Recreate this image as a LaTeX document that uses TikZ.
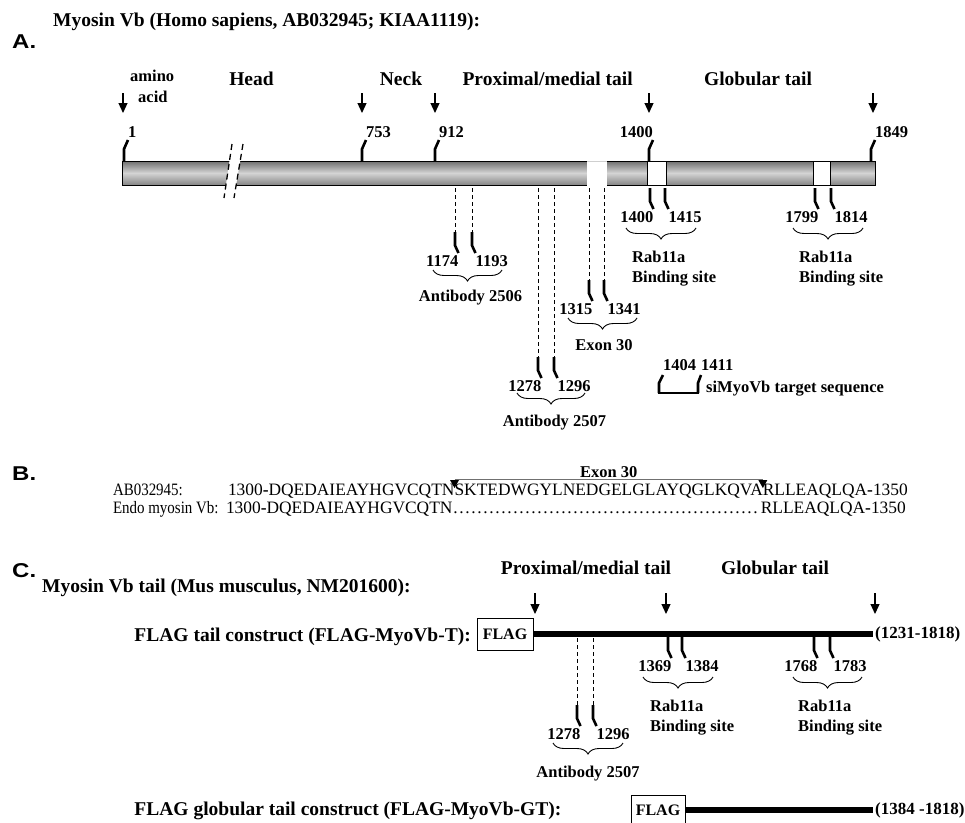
\documentclass[tikz,border=0pt]{standalone}
\usepackage{fontspec}
\setmainfont{Liberation Serif}
\newfontfamily\panelfont{Liberation Sans}
\usetikzlibrary{arrows.meta,decorations.pathreplacing,calc,positioning}
\definecolor{BarTop}{HTML}{6F6F6F}
\definecolor{BarMid}{HTML}{D4D4D4}
\definecolor{BarBot}{HTML}{858585}
\definecolor{ExonLine}{HTML}{707070}
\definecolor{GapEdge}{HTML}{CFCFCF}
\newcommand\seqfont{\fontsize{17.4}{19}\selectfont}
\tikzset{
  panel/.style={font=\fontsize{20}{22}\selectfont\panelfont\bfseries,anchor=base west,inner sep=0pt},
  title/.style={font=\fontsize{19.5}{22}\selectfont\bfseries,anchor=base west,inner sep=0pt},
  region/.style={font=\fontsize{19.5}{22}\selectfont\bfseries,anchor=base,inner sep=0pt},
  numlab/.style={font=\fontsize{16.5}{20}\selectfont\bfseries,inner sep=0pt},
  rangelab/.style={font=\fontsize{17}{20}\selectfont\bfseries,inner sep=0pt,anchor=west},
  seq/.style={font=\seqfont,inner sep=0pt,outer sep=0pt,anchor=base west},
  ticker/.style={line width=2.6pt},
  guide/.style={line width=0.8pt,dash pattern=on 4pt off 3pt},
  pointer/.style={line width=1.2pt,-{Triangle[width=9pt,length=10pt]}},
  brc/.style={decorate,decoration={brace,mirror,amplitude=11pt},line width=0.9pt},
  flagbox/.style={draw,line width=0.9pt,minimum width=56pt,minimum height=32pt,
                  inner sep=0pt,font=\fontsize{16}{18}\selectfont\bfseries},
  construct/.style={line width=6pt},
}
% tick above the bar, label on the given side
\newcommand\markup[4]{%
  \draw[ticker] (#1,161) -- (#1,149) -- ++(4,-9) coordinate (#2);
  \node[numlab,anchor=#4] (#2lab) at ($(#2)+(0,-3)$) {#3};}
% tick below a bar or guide, label on the given side
\newcommand\markdown[5]{%
  \draw[ticker] (#1,#2) -- ++(0,13.5) -- ++(3.5,7.5) coordinate (#3);
  \node[numlab,anchor=#5] (#3lab) at ($(#3)+(0,13.5)$) {#4};}

\begin{document}
\begin{tikzpicture}[x=1pt,y=-1pt]
\useasboundingbox (0,0) rectangle (965,822);

% ---------- A: full length human myosin Vb ----------
\node[title] (titleA) at (53,26.5) {Myosin Vb (Homo sapiens, AB032945; KIAA1119):};
\node[panel] (panA) at (12,48.5) {\scalebox{1.2}[1]{A.}};

\node[numlab,anchor=base west] (amino) at (130,81.5) {amino};
\node[numlab,anchor=base west] (acid) at (138,102.5) {acid};
\node[region] (head) at (251.5,85) {Head};
\node[region] (neck) at (401,85) {Neck};
\node[region,anchor=base east] (prox) at (633,85) {Proximal/medial tail};
\node[region] (glob) at (758,85) {Globular tail};

\foreach \x in {123,362,435,649,873}
  \draw[pointer] (\x,93) -- (\x,113);

% bar with break, exon gap and Rab11a sites
\draw[line width=0.9pt,top color=BarTop,bottom color=BarBot,middle color=BarMid]
  (122,161) rectangle (875,185);
\fill[white] (229.6,160) -- (240.3,160) -- (236,186) -- (225.8,186) -- cycle;
\draw[line width=1.3pt,dash pattern=on 6pt off 4pt]
  (232,144) -- (224,198) (243,144) -- (234,198);
\fill[white] (587,160) rectangle (607,186);
\draw[GapEdge,line width=0.7pt] (587,161) -- (607,161);
\draw[fill=white,line width=0.9pt] (647,161) rectangle (666,185)
  (813,161) rectangle (830,185);

\markup{124}{m1}{1}{base west}
\markup{362}{m753}{753}{base west}
\markup{435}{m912}{912}{base west}
\markup{649}{m1400}{1400}{base east}
\markup{871}{m1849}{1849}{base west}

% Rab11a binding sites
\markdown{650}{188}{r1400}{1400}{base east}
\markdown{665}{188}{r1415}{1415}{base west}
\markdown{815}{188}{r1799}{1799}{base east}
\markdown{831}{188}{r1814}{1814}{base west}
\draw[brc] (626,228) -- (696,228);
\draw[brc] (793,228) -- (863,228);
\node[numlab,anchor=north west,align=left] (rabA1) at (632,251) {Rab11a\\Binding site};
\node[numlab,anchor=north west,align=left] (rabA2) at (799,251) {Rab11a\\Binding site};

% antibody 2506
\draw[guide] (455,188) -- (455,232) (472,188) -- (472,232);
\markdown{455}{232}{a1174}{1174}{base east}
\markdown{472}{232}{a1193}{1193}{base west}
\draw[brc] (433,270) -- (502,270);
\node[numlab,anchor=base] (ab2506) at (470.5,301.7) {Antibody 2506};

% exon 30
\draw[guide] (589,188) -- (589,280) (604,188) -- (604,280);
\markdown{589}{280}{e1315}{1315}{base east}
\markdown{604}{280}{e1341}{1341}{base west}
\draw[brc] (568,318) -- (637,318);
\node[numlab,anchor=base] (exA) at (604,350) {Exon 30};

% antibody 2507
\draw[guide] (538,188) -- (538,357) (554,188) -- (554,357);
\markdown{538}{357}{b1278}{1278}{base east}
\markdown{554}{357}{b1296}{1296}{base west}
\draw[brc] (517,393) -- (585,393);
\node[numlab,anchor=base] (ab2507) at (554.5,426.7) {Antibody 2507};

% siRNA target
\draw[ticker] (659,393) -- (659,383) -- ++(4,-8) coordinate (s1404);
\draw[ticker] (698,393) -- (698,383) -- ++(3,-8) coordinate (s1411);
\draw[line width=1.3pt] (658,393) -- (699,393);
\node[numlab,anchor=base west] (si1404) at ($(s1404)+(0,-4.5)$) {1404};
\node[numlab,anchor=base west] (si1411) at ($(s1411)+(0,-4.5)$) {1411};
\node[numlab,anchor=base west] (sitxt) at (706,392.5) {siMyoVb target sequence};

% ---------- B: sequence alignment ----------
\node[panel] (panB) at (12,480) {\scalebox{1.2}[1]{B.}};
\node[seq] (abl) at (113,495) {\scalebox{0.86}[1]{AB032945:}};
\node[seq] (sq1) at (228,495) {1300\textbf{-}DQEDAIEAYHGVCQTN};
\node[seq] (sq2) at (sq1.base east) {SKTEDWGYLNEDGELGLAYQGLKQVA};
\node[seq] (sq3) at (sq2.base east) {RLLEAQLQA\textbf{-}1350};

\path (sq1.base east) ++(0,-15.5) coordinate (exL);
\path (sq2.base east) ++(0,-15.5) coordinate (exR);
\draw[ExonLine,line width=1.3pt] (exL) -- (exR);
\fill ($(exL)+(-4.5,0.5)$) -- ++(9,0) -- ++(-4.5,8) -- cycle;
\fill ($(exR)+(-4.5,0.5)$) -- ++(9,0) -- ++(-4.5,8) -- cycle;
\node[font=\fontsize{16.5}{18}\selectfont\bfseries,anchor=base,inner sep=0pt]
  (exB) at ($(exL)!0.5!(exR)+(0,-2.5)$) {Exon 30};

\node[seq] (endol) at (113,513) {\scalebox{0.86}[1]{Endo myosin Vb:}};
\node[seq] (en1) at (226,513) {1300\textbf{-}DQEDAIEAYHGVCQTN};
\node[seq] (en2) at (en1.base east)
  {\setbox0\hbox{SKTEDWGYLNEDGELGLAYQGLKQVA}\hbox to \wd0{\leaders\hbox to 6pt{\hss.\hss}\hfill}};
\node[seq] (en3) at (en2.base east) {RLLEAQLQA\textbf{-}1350};

% ---------- C: mouse tail constructs ----------
\node[panel] (panC) at (12,577) {\scalebox{1.2}[1]{C.}};
\node[title] (titleC) at (42,592) {Myosin Vb tail (Mus musculus, NM201600):};
\node[region] (proxC) at (586,574) {Proximal/medial tail};
\node[region] (globC) at (775,574) {Globular tail};
\foreach \x in {535,666,875}
  \draw[pointer] (\x,593) -- (\x,614);

\node[title,anchor=base east] (tailT) at (471,641) {FLAG tail construct (FLAG-MyoVb-T):};
\node[flagbox] (flagT) at (505,634) {FLAG};
\coordinate (endT) at (873,634);
\draw[construct] (flagT.east) -- (endT);
\node[rangelab] (rangeT) at (875,634) {(1231-1818)};

\markdown{668}{637}{c1369}{1369}{base east}
\markdown{682}{637}{c1384}{1384}{base west}
\markdown{814}{637}{c1768}{1768}{base east}
\markdown{830}{637}{c1783}{1783}{base west}
\draw[brc] (643,677) -- (713,677);
\draw[brc] (793,677) -- (862,677);
\node[numlab,anchor=north west,align=left] (rabC1) at (650,700) {Rab11a\\Binding site};
\node[numlab,anchor=north west,align=left] (rabC2) at (798,700) {Rab11a\\Binding site};

\draw[guide] (577,638) -- (577,705) (593,638) -- (593,705);
\markdown{577}{705}{d1278}{1278}{base east}
\markdown{593}{705}{d1296}{1296}{base west}
\draw[brc] (553,743) -- (623,743);
\node[numlab,anchor=base] (ab2507C) at (588,777.5) {Antibody 2507};

\node[title] (tailGT) at (tailT.base west |- 0,815) {FLAG globular tail construct (FLAG-MyoVb-GT):};
\node[flagbox,minimum width=54pt,minimum height=30pt] (flagGT) at (658,810) {FLAG};
\coordinate (endGT) at (873,810);
\draw[construct] (flagGT.east) -- (endGT);
\node[rangelab] (rangeGT) at (875,810) {(1384 -1818)};
\end{tikzpicture}
\end{document}
